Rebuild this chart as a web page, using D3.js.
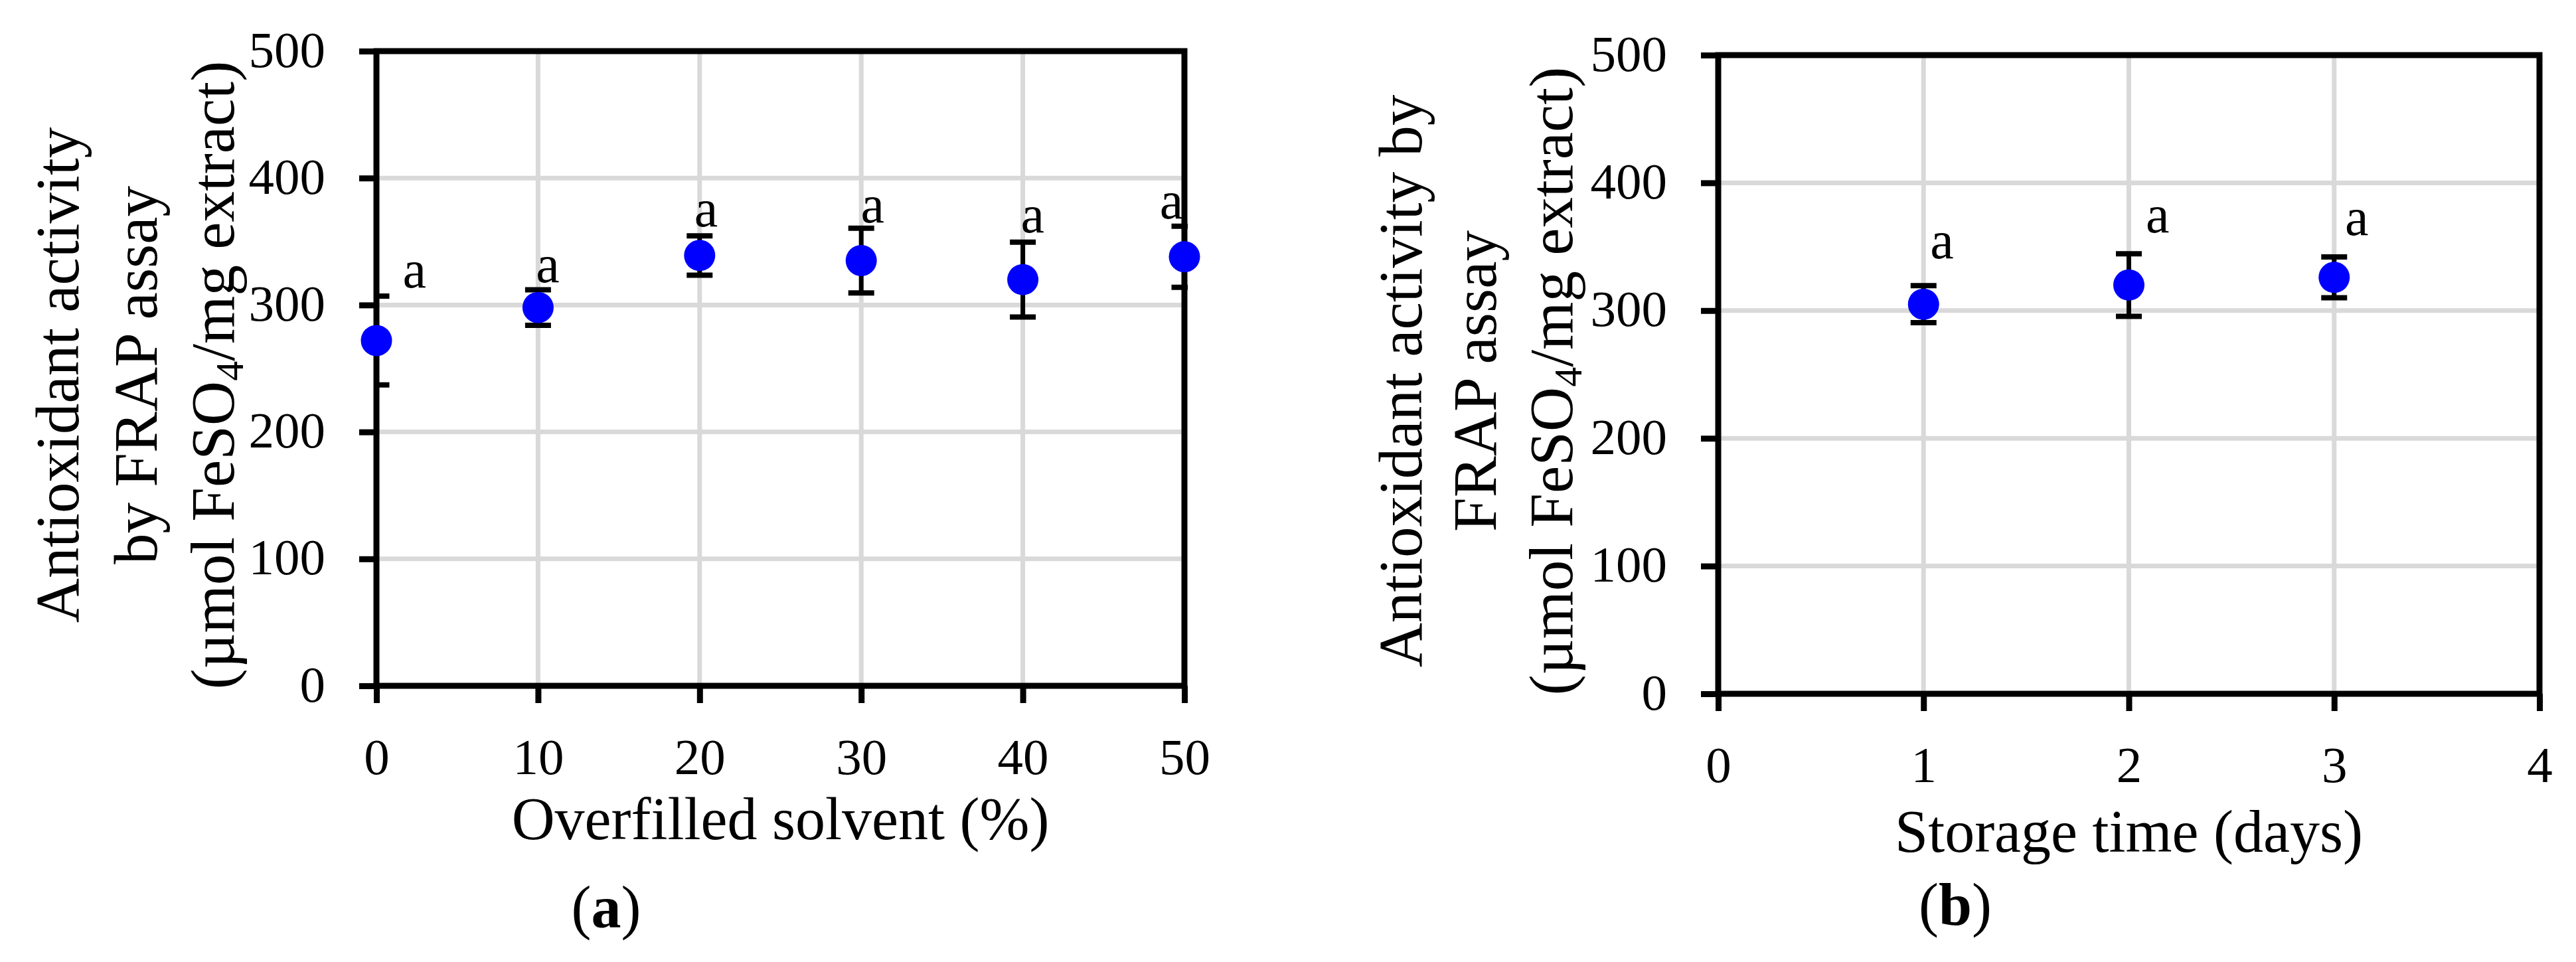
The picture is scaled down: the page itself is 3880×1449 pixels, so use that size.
<!DOCTYPE html>
<html><head><meta charset="utf-8">
<script src="https://cdn.jsdelivr.net/npm/d3@7"></script>
<style>
body{margin:0;background:#fff}
text{font-family:"Liberation Serif","Times New Roman",serif;fill:#000}
</style>
</head><body>
<svg id="c" width="3880" height="1449"></svg>
<script>
// ---------- data ----------
const solventPct = [0, 10, 20, 30, 40, 50];
const frapA = [272, 298, 339, 335, 320, 338];
const errA = [35, 14, 15.5, 25.5, 29.5, 24];
const lettersA = ["a", "a", "a", "a", "a", "a"];
const letterAX = [2.35, 10.6, 20.4, 30.7, 40.6, 49.2];
const letterAY = [314, 318, 362, 365, 357, 368];
const xTicksA = [0, 10, 20, 30, 40, 50];

const storageDays = [1, 2, 3];
const frapB = [305, 320, 326];
const errB = [14.5, 24.5, 16];
const lettersB = ["a", "a", "a"];
const letterBX = [1.09, 2.14, 3.11];
const letterBY = [341, 361, 359];
const xTicksB = [0, 1, 2, 3, 4];

const yTicks = [0, 100, 200, 300, 400, 500];

const xTitleA = "Overfilled solvent (%)";
const xTitleB = "Storage time (days)";
const yTitleA = ["Antioxidant activity", "by FRAP assay"];
const yTitleB = ["Antioxidant activity by", "FRAP assay"];
const captionA = "a";
const captionB = "b";

// ---------- drawing ----------
const svg = d3.select("#c");
const fmt = d3.format("d");

function panel(cfg) {
  const g = svg.append("g");
  const x = d3.scaleLinear().domain(cfg.xDomain).range([cfg.left, cfg.right]);
  const y = d3.scaleLinear().domain([0, 500]).range([cfg.bottom, cfg.top]);
  const W = cfg.right - cfg.left;

  // gridlines
  g.append("g").selectAll("line").data(cfg.xTicks.slice(1, -1)).join("line")
    .attr("x1", d => x(d)).attr("x2", d => x(d))
    .attr("y1", cfg.top).attr("y2", cfg.bottom)
    .attr("stroke", "#d9d9d9").attr("stroke-width", 7);
  g.append("g").selectAll("line").data(yTicks.slice(1, -1)).join("line")
    .attr("y1", d => y(d)).attr("y2", d => y(d))
    .attr("x1", cfg.left).attr("x2", cfg.right)
    .attr("stroke", "#d9d9d9").attr("stroke-width", 7);

  // axes (ticks outside)
  const ya = g.append("g").attr("transform", `translate(${cfg.left},0)`)
    .call(d3.axisLeft(y).tickValues(yTicks).tickFormat(fmt).tickSizeInner(26).tickSizeOuter(0).tickPadding(51));
  ya.select(".domain").remove();
  ya.selectAll(".tick line").attr("stroke", "#000").attr("stroke-width", 9);
  ya.selectAll(".tick text").attr("font-size", 77).attr("dy", "0.3em")
    .style("font-family", '"Liberation Serif", serif');

  const xa = g.append("g").attr("transform", `translate(0,${cfg.bottom})`)
    .call(d3.axisBottom(x).tickValues(cfg.xTicks).tickFormat(fmt).tickSizeInner(26).tickSizeOuter(0).tickPadding(0));
  xa.select(".domain").remove();
  xa.selectAll(".tick line").attr("stroke", "#000").attr("stroke-width", 9);
  xa.selectAll(".tick text").attr("font-size", 77).attr("y", 133).attr("dy", 0)
    .style("font-family", '"Liberation Serif", serif');

  // frame
  g.append("rect").attr("x", cfg.left).attr("y", cfg.top)
    .attr("width", W).attr("height", cfg.bottom - cfg.top)
    .attr("fill", "none").attr("stroke", "#000").attr("stroke-width", 9);

  // clip for error bars
  const cid = "clip" + cfg.id;
  svg.append("defs").append("clipPath").attr("id", cid).append("rect")
    .attr("x", cfg.left).attr("y", cfg.top - 5).attr("width", W + 5).attr("height", cfg.bottom - cfg.top + 10);

  const eb = g.append("g").attr("clip-path", `url(#${cid})`);
  const idx = d3.range(cfg.xs.length);
  eb.selectAll("line.stem").data(idx).join("line").attr("class", "stem")
    .attr("x1", i => x(cfg.xs[i])).attr("x2", i => x(cfg.xs[i]))
    .attr("y1", i => y(cfg.ys[i] - cfg.err[i])).attr("y2", i => y(cfg.ys[i] + cfg.err[i]))
    .attr("stroke", "#000").attr("stroke-width", 7);
  eb.selectAll("line.capT").data(idx).join("line").attr("class", "capT")
    .attr("x1", i => x(cfg.xs[i]) - 19.5).attr("x2", i => x(cfg.xs[i]) + 19.5)
    .attr("y1", i => y(cfg.ys[i] + cfg.err[i])).attr("y2", i => y(cfg.ys[i] + cfg.err[i]))
    .attr("stroke", "#000").attr("stroke-width", 8);
  eb.selectAll("line.capB").data(idx).join("line").attr("class", "capB")
    .attr("x1", i => x(cfg.xs[i]) - 19.5).attr("x2", i => x(cfg.xs[i]) + 19.5)
    .attr("y1", i => y(cfg.ys[i] - cfg.err[i])).attr("y2", i => y(cfg.ys[i] - cfg.err[i]))
    .attr("stroke", "#000").attr("stroke-width", 8);

  // markers
  g.append("g").selectAll("circle").data(idx).join("circle")
    .attr("cx", i => x(cfg.xs[i])).attr("cy", i => y(cfg.ys[i]))
    .attr("r", 23.5).attr("fill", "#0000ff");

  // letters
  g.append("g").selectAll("text").data(idx).join("text")
    .attr("x", i => x(cfg.lx[i])).attr("y", i => y(cfg.ly[i]))
    .attr("text-anchor", "middle").attr("font-size", 80)
    .text(i => cfg.letters[i]);

  // x title
  g.append("text").attr("x", (cfg.left + cfg.right) / 2).attr("y", cfg.xTitleY)
    .attr("text-anchor", "middle").attr("font-size", 90).text(cfg.xTitle);

  // y title (rotated, 3 lines)
  const yt = g.append("g").attr("transform", "rotate(-90)");
  cfg.yTitle.forEach((t, k) => {
    yt.append("text").attr("x", -cfg.yTitleCY).attr("y", cfg.yTitleX[k])
      .attr("text-anchor", "middle").attr("font-size", 93).text(t);
  });
  const l3 = yt.append("text").attr("x", -cfg.yTitleCY).attr("y", cfg.yTitleX[2])
    .attr("text-anchor", "middle").attr("font-size", 93);
  l3.append("tspan").text("(\u00b5mol FeSO");
  l3.append("tspan").attr("font-size", 60).attr("dy", 14).text("4");
  l3.append("tspan").attr("dy", -14).text("/mg extract)");

  // caption
  const cap = g.append("text").attr("x", cfg.capX).attr("y", cfg.capY)
    .attr("text-anchor", "middle").attr("font-size", 90);
  cap.append("tspan").text("(");
  cap.append("tspan").attr("font-weight", "bold").text(cfg.caption);
  cap.append("tspan").text(")");
}

panel({
  id: "A", xDomain: [0, 50], left: 567, right: 1784, top: 77, bottom: 1033,
  xTicks: xTicksA, xs: solventPct, ys: frapA, err: errA,
  letters: lettersA, lx: letterAX, ly: letterAY,
  xTitle: xTitleA, xTitleY: 1264,
  yTitle: yTitleA, yTitleX: [118, 236, 352], yTitleCY: 565,
  caption: captionA, capX: 913, capY: 1397
});
panel({
  id: "B", xDomain: [0, 4], left: 2588, right: 3825, top: 83, bottom: 1045,
  xTicks: xTicksB, xs: storageDays, ys: frapB, err: errB,
  letters: lettersB, lx: letterBX, ly: letterBY,
  xTitle: xTitleB, xTitleY: 1283,
  yTitle: yTitleB, yTitleX: [2141, 2253, 2368], yTitleCY: 574,
  caption: captionB, capX: 2945, capY: 1393
});
</script>
</body></html>
